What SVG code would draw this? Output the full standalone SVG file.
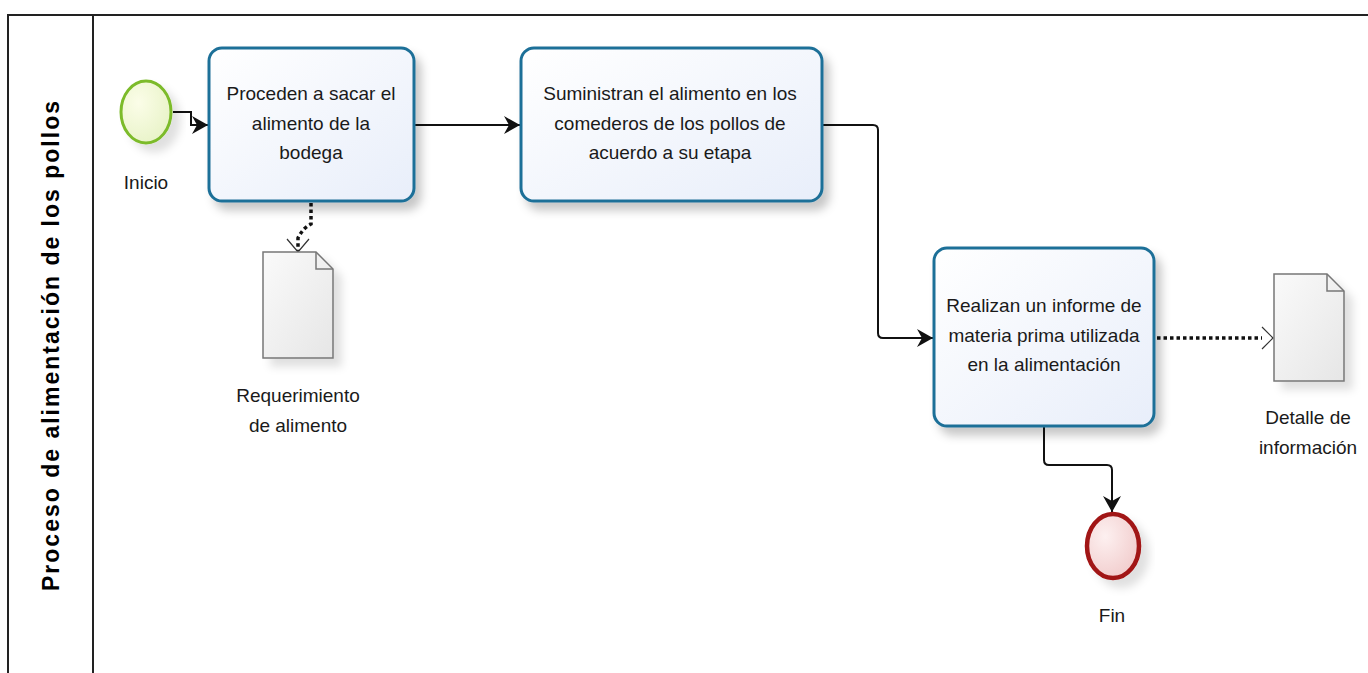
<svg xmlns="http://www.w3.org/2000/svg" width="1368" height="673" viewBox="0 0 1368 673">
<defs>
<style>
.lane{stroke:#222;stroke-width:2;fill:none}
.task{fill:url(#taskFill);stroke:#1e6f98;stroke-width:3;filter:url(#sh)}
.txt{font-family:"Liberation Sans Narrow","Liberation Sans",Arial,sans-serif;font-size:19px;fill:#1a1a1a;text-anchor:middle}
.title{font-family:"Liberation Sans",Arial,sans-serif;font-size:23px;font-weight:bold;fill:#000;text-anchor:middle}
.flow{fill:none;stroke:#111;stroke-width:2}
.assoc{fill:none;stroke:#111;stroke-width:3.5;stroke-dasharray:3.5 3}
.doc{fill:url(#docFill);stroke:#777;stroke-width:1.5;filter:url(#sh2)}
.oarr{fill:none;stroke:#333;stroke-width:1.2}
</style>
<linearGradient id="taskFill" x1="0" y1="0" x2="1" y2="1">
<stop offset="0" stop-color="#ffffff"/><stop offset="1" stop-color="#e8eefa"/>
</linearGradient>
<linearGradient id="docFill" x1="0" y1="0" x2="1" y2="1">
<stop offset="0" stop-color="#fafafa"/><stop offset="1" stop-color="#e6e6e6"/>
</linearGradient>
<radialGradient id="startFill" cx="0.35" cy="0.35" r="0.8">
<stop offset="0" stop-color="#fbfde8"/><stop offset="1" stop-color="#e6f2c4"/>
</radialGradient>
<radialGradient id="endFill" cx="0.35" cy="0.35" r="0.8">
<stop offset="0" stop-color="#fdf0f0"/><stop offset="1" stop-color="#f0c8c8"/>
</radialGradient>
<filter id="sh" x="-10%" y="-10%" width="130%" height="140%">
<feDropShadow dx="6" dy="8" stdDeviation="5" flood-color="#000" flood-opacity="0.22"/>
</filter>
<filter id="sh2" x="-10%" y="-10%" width="140%" height="140%">
<feDropShadow dx="8" dy="8" stdDeviation="4" flood-color="#000" flood-opacity="0.12"/>
</filter>
<marker id="arr" viewBox="0 0 16 18" refX="16" refY="9" markerWidth="16" markerHeight="18" markerUnits="userSpaceOnUse" orient="auto">
<path d="M0,0 L16,9 L0,18 L5,9 Z" fill="#111"/>
</marker>
</defs>

<g id="pool">
<path class="lane" d="M8,673 V15 H1368"/>
<line class="lane" x1="93" y1="15" x2="93" y2="673"/>
<text class="title" transform="translate(59,346) rotate(-90)" textLength="490" lengthAdjust="spacing">Proceso de alimentación de los pollos</text>
</g>

<g id="connectors">
<path class="flow" d="M173,112 H191 V125 H208" marker-end="url(#arr)"/>
<path class="flow" d="M415,125 H520" marker-end="url(#arr)"/>
<path class="flow" d="M823,125 H873 Q878,125 878,130 V333 Q878,338 883,338 H933" marker-end="url(#arr)"/>
<path class="flow" d="M1044,427 V460 Q1044,465 1049,465 H1107 Q1112,465 1112,470 V512" marker-end="url(#arr)"/>
<path class="assoc" d="M311,203 V224 Q303,228 298,238 V251"/>
<path class="oarr" d="M287,239 L298,252 L309,239"/>
<path class="assoc" d="M1157,338 H1262"/>
<path class="oarr" d="M1262,327 L1273,338 L1262,349"/>
</g>

<g id="start">
<ellipse cx="146" cy="112" rx="25" ry="31" fill="url(#startFill)" stroke="#7cbb2a" stroke-width="3" filter="url(#sh2)"/>
<text class="txt" x="146" y="189">Inicio</text>
</g>

<g id="task1">
<rect class="task" x="209" y="48" width="205" height="153" rx="13"/>
<text class="txt" x="311" y="100">Proceden a sacar el</text>
<text class="txt" x="311" y="130">alimento de la</text>
<text class="txt" x="311" y="159">bodega</text>
</g>

<g id="task2">
<rect class="task" x="521" y="48" width="301" height="153" rx="13"/>
<text class="txt" x="670" y="100">Suministran el alimento en los</text>
<text class="txt" x="670" y="130">comederos de los pollos  de</text>
<text class="txt" x="670" y="159">acuerdo a su etapa</text>
</g>

<g id="task3">
<rect class="task" x="934" y="248" width="220" height="178" rx="13"/>
<text class="txt" x="1044" y="312">Realizan un informe de</text>
<text class="txt" x="1044" y="342">materia prima utilizada</text>
<text class="txt" x="1044" y="371">en la alimentación</text>
</g>

<g id="doc1">
<path class="doc" d="M263,252 H316 L333,269 V358 H263 Z"/>
<path d="M316,252 V269 H333" fill="none" stroke="#777" stroke-width="1.5"/>
<text class="txt" x="298" y="402">Requerimiento</text>
<text class="txt" x="298" y="432">de alimento</text>
</g>

<g id="doc2">
<path class="doc" d="M1274,274 H1327 L1344,291 V381 H1274 Z"/>
<path d="M1327,274 V291 H1344" fill="none" stroke="#777" stroke-width="1.5"/>
<text class="txt" x="1308" y="424">Detalle de</text>
<text class="txt" x="1308" y="454">información</text>
</g>

<g id="end">
<ellipse cx="1113" cy="546" rx="26" ry="32" fill="url(#endFill)" stroke="#a11212" stroke-width="4.5" filter="url(#sh2)"/>
<text class="txt" x="1112" y="622">Fin</text>
</g>
</svg>
